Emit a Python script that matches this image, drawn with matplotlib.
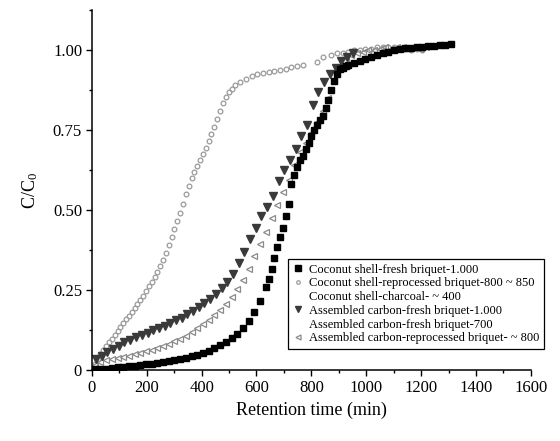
import numpy as np
import matplotlib
matplotlib.use('Agg')
import matplotlib.pyplot as plt
from matplotlib.ticker import MultipleLocator

plt.rcParams['font.family'] = 'Liberation Serif'
plt.rcParams['mathtext.fontset'] = 'custom'
plt.rcParams['mathtext.rm'] = 'Liberation Serif'
plt.rcParams['mathtext.it'] = 'Liberation Serif:italic'

# Coconut shell-fresh briquet-1.000 (black squares)
t_cs_fresh = [10, 31, 52, 73, 94, 114, 135, 156, 177, 197, 218, 239, 260, 281, 301,
              322, 343, 364, 384, 405, 426, 447, 468, 488, 509, 530, 551, 571, 592,
              613, 634, 644, 655, 665, 675, 686, 696, 707, 717, 727, 738, 748, 758,
              769, 779, 790, 800, 810, 821, 831, 842, 852, 862, 873, 883, 894, 904,
              914, 925, 935, 956, 977, 997, 1018, 1039, 1060, 1081, 1101, 1122, 1143,
              1164, 1184, 1205, 1226, 1247, 1268, 1288, 1309]
c_cs_fresh = [0.002, 0.003, 0.004, 0.006, 0.008, 0.010, 0.012, 0.014, 0.016, 0.018,
              0.020, 0.022, 0.025, 0.028, 0.031, 0.035, 0.038, 0.043, 0.048, 0.054,
              0.060, 0.068, 0.078, 0.088, 0.100, 0.112, 0.130, 0.152, 0.180, 0.215,
              0.260, 0.285, 0.315, 0.350, 0.385, 0.415, 0.445, 0.480, 0.520, 0.580,
              0.610, 0.635, 0.655, 0.670, 0.690, 0.710, 0.730, 0.750, 0.765, 0.780,
              0.795, 0.820, 0.845, 0.875, 0.905, 0.925, 0.940, 0.945, 0.950, 0.955,
              0.960, 0.965, 0.972, 0.978, 0.985, 0.990, 0.995, 1.000, 1.005, 1.007,
              1.008, 1.010, 1.010, 1.012, 1.014, 1.015, 1.017, 1.020]

# Coconut shell-reprocessed briquet-800~850 (light grey circles)
t_cs_rep = [0, 10, 21, 31, 42, 52, 62, 73, 83, 94, 104, 114, 125, 135, 145, 156, 166,
            177, 187, 197, 208, 218, 229, 239, 249, 260, 270, 281, 291, 301, 312, 322,
            332, 343, 353, 364, 374, 384, 395, 405, 416, 426, 436, 447, 457, 468, 478,
            488, 499, 509, 520, 540, 561, 582, 603, 623, 644, 665, 686, 707, 727, 748,
            769, 821, 842, 873, 894, 914, 935, 956, 977, 997, 1018, 1039, 1060, 1081,
            1101, 1122, 1143, 1164, 1184, 1205]
c_cs_rep = [0.005, 0.020, 0.035, 0.050, 0.062, 0.074, 0.086, 0.098, 0.110, 0.122,
            0.134, 0.146, 0.158, 0.170, 0.182, 0.194, 0.205, 0.218, 0.232, 0.248,
            0.262, 0.276, 0.290, 0.305, 0.325, 0.345, 0.367, 0.390, 0.415, 0.440,
            0.465, 0.490, 0.520, 0.550, 0.575, 0.600, 0.620, 0.638, 0.655, 0.675,
            0.695, 0.715, 0.738, 0.760, 0.785, 0.810, 0.835, 0.855, 0.870, 0.880,
            0.890, 0.900, 0.910, 0.918, 0.924, 0.928, 0.931, 0.935, 0.938, 0.942,
            0.946, 0.950, 0.953, 0.963, 0.978, 0.985, 0.990, 0.990, 0.995, 1.000,
            1.000, 1.005, 1.005, 1.010, 1.010, 1.010, 1.010, 1.008, 1.005, 1.000,
            1.005, 1.000]

# Assembled carbon-fresh briquet-1.000 (dark down triangles)
t_ac_fresh = [16, 36, 57, 78, 99, 119, 140, 161, 182, 203, 223, 244, 265, 286, 307,
              327, 348, 369, 390, 410, 431, 452, 473, 494, 514, 535, 556, 577, 597,
              618, 639, 660, 681, 701, 722, 743, 764, 784, 805, 826, 847, 868, 888,
              909, 930, 951]
c_ac_fresh = [0.035, 0.045, 0.055, 0.065, 0.075, 0.086, 0.095, 0.103, 0.110, 0.117,
              0.124, 0.131, 0.139, 0.147, 0.155, 0.164, 0.174, 0.185, 0.197, 0.210,
              0.223, 0.238, 0.255, 0.274, 0.300, 0.335, 0.370, 0.410, 0.445, 0.480,
              0.510, 0.545, 0.590, 0.625, 0.655, 0.690, 0.730, 0.765, 0.830, 0.870,
              0.900, 0.925, 0.945, 0.965, 0.980, 0.990]

# Assembled carbon-reprocessed briquet-~800 (grey left triangles)
t_ac_rep = [10, 31, 52, 73, 94, 114, 135, 156, 177, 197, 218, 239, 260, 281, 301, 322,
            343, 364, 384, 405, 426, 447, 468, 488, 509, 530, 551, 571, 592, 613, 634,
            655, 675, 696, 717, 738, 758, 779, 800, 821, 842, 862, 883, 904, 925, 946,
            966, 987, 1008, 1029, 1049, 1070, 1091, 1112, 1133, 1153, 1174, 1195, 1216]
c_ac_rep = [0.015, 0.024, 0.030, 0.034, 0.037, 0.041, 0.045, 0.049, 0.054, 0.058,
            0.063, 0.069, 0.075, 0.082, 0.090, 0.098, 0.107, 0.118, 0.130, 0.143,
            0.156, 0.172, 0.188, 0.207, 0.228, 0.252, 0.280, 0.315, 0.355, 0.395,
            0.430, 0.475, 0.515, 0.555, 0.595, 0.640, 0.680, 0.710, 0.740, 0.775,
            0.810, 0.850, 0.905, 0.950, 0.975, 0.985, 0.990, 0.995, 1.000, 1.000,
            1.005, 1.010, 1.005, 1.010, 1.010, 1.005, 1.010, 1.005, 1.010]

fig = plt.figure(figsize=(5.6, 4.41), dpi=100)
ax = fig.add_axes([0.164, 0.161, 0.784, 0.816])

ax.plot(t_cs_rep, c_cs_rep, ls='none', marker='o', ms=3.4, mfc='none', mec='#9a9a9a',
        mew=0.9, label='Coconut shell-reprocessed briquet-800 ~ 850')
ax.plot(t_ac_rep, c_ac_rep, ls='none', marker='<', ms=4.8, mfc='none', mec='#8a8a8a',
        mew=0.9, label='Assembled carbon-reprocessed briquet- ~ 800')
ax.plot(t_ac_fresh, c_ac_fresh, ls='none', marker='v', ms=5.5, color='#3a3a3a',
        label='Assembled carbon-fresh briquet-1.000')
ax.plot(t_cs_fresh, c_cs_fresh, ls='none', marker='s', ms=5, color='black',
        label='Coconut shell-fresh briquet-1.000')
ax.plot([], [], ls='none', marker='none', label='Coconut shell-charcoal- ~ 400')
ax.plot([], [], ls='none', marker='none', label='Assembled carbon-fresh briquet-700')

handles, labels = ax.get_legend_handles_labels()
order = [3, 0, 4, 2, 5, 1]
leg = ax.legend([handles[i] for i in order], [labels[i] for i in order],
                loc='lower left', bbox_to_anchor=(0.433, 0.042), fontsize=9,
                frameon=True, fancybox=False, edgecolor='black', framealpha=1,
                handlelength=0.8, handletextpad=0.5, labelspacing=0.14,
                borderpad=0.35, markerscale=0.75)
leg.get_frame().set_linewidth(0.9)

ax.set_xlim(0, 1600)
ax.set_ylim(0, 1.125)
ax.xaxis.set_major_locator(MultipleLocator(200))
ax.xaxis.set_minor_locator(MultipleLocator(100))
ax.set_yticks([0, 0.25, 0.5, 0.75, 1.0])
ax.set_yticklabels(['0', '0.25', '0.50', '0.75', '1.00'])
ax.yaxis.set_minor_locator(MultipleLocator(0.125))
ax.tick_params(which='major', direction='out', length=4, width=1, labelsize=12, pad=3)
ax.tick_params(which='minor', direction='out', length=2.5, width=1)

ax.spines['top'].set_visible(False)
ax.spines['right'].set_visible(False)
ax.spines['left'].set_linewidth(1.1)
ax.spines['bottom'].set_linewidth(1.1)

ax.set_xlabel('Retention time (min)', fontsize=13, labelpad=4)
ax.set_ylabel(r'C/C$_0$', fontsize=13, labelpad=9)

fig.savefig('out.png', dpi=100)
